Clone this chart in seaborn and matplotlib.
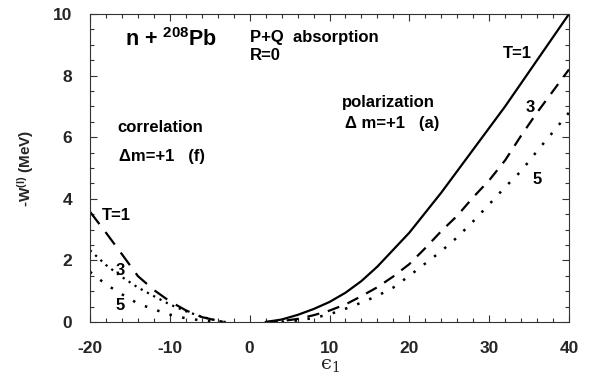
import matplotlib
matplotlib.use("Agg")
import matplotlib.pyplot as plt
import seaborn as sns
from matplotlib.ticker import MultipleLocator

# ---- data ----
corr_x = [-20, -18, -16, -14, -12, -10, -8, -6, -4, -3]
corr_T1 = [3.58, 2.9, 2.2, 1.49, 1.04, 0.67, 0.38, 0.16, 0.04, 0.0]
corr_T3 = [2.33, 1.85, 1.46, 1.12, 0.84, 0.57, 0.35, 0.17, 0.04, 0.0]
corr_T5 = [1.63, 1.22, 0.90, 0.60, 0.41, 0.24, 0.12, 0.05, 0.01, 0.0]

pol_x = [2, 4, 6, 8, 10, 12, 14, 16, 18, 20, 22, 24, 26, 28, 30, 32, 34, 36, 38, 40]
pol_T1 = [0.0, 0.08, 0.23, 0.42, 0.65, 0.95, 1.33, 1.8, 2.35, 2.9, 3.55, 4.2, 4.9, 5.6, 6.3, 7.0, 7.75, 8.5, 9.25, 10.0]
pol_T3 = [0.0, 0.03, 0.1, 0.22, 0.37, 0.57, 0.84, 1.13, 1.48, 1.88, 2.4, 2.95, 3.45, 4.05, 4.6, 5.25, 6.05, 6.8, 7.5, 8.2]
pol5_x = [4, 6, 8, 10, 12, 14, 16, 18, 20, 22, 24, 26, 28, 30, 32, 34, 36, 38, 40]
pol_T5 = [0.0, 0.05, 0.13, 0.25, 0.43, 0.63, 0.85, 1.12, 1.5, 1.9, 2.3, 2.75, 3.27, 3.82, 4.38, 4.9, 5.55, 6.17, 6.8]

x_ticks = [-20, -10, 0, 10, 20, 30, 40]
y_ticks = [0, 2, 4, 6, 8, 10]

sns.set_theme(style="ticks")
plt.rcParams['font.family'] = ['Liberation Sans', 'DejaVu Sans']
plt.rcParams['axes.unicode_minus'] = False
plt.rcParams['mathtext.fontset'] = 'custom'
plt.rcParams['mathtext.rm'] = 'DejaVu Serif'
plt.rcParams['mathtext.bf'] = 'Liberation Sans:bold'
plt.rcParams['mathtext.it'] = 'DejaVu Serif:italic'

fig = plt.figure(figsize=(5.95, 3.79), dpi=100)
ax = fig.add_axes([90/595, 1-322/379, (569-90)/595, (322-14)/379])

k = dict(ax=ax, color='black', estimator=None, legend=False,
         solid_joinstyle='round', dash_joinstyle='round')
sns.lineplot(x=corr_x, y=corr_T1, lw=1.6, linestyle=(0, (7, 4.5)), **k)
sns.lineplot(x=corr_x, y=corr_T3, lw=1.6, linestyle=(0, (1, 2.2)), **k)
sns.lineplot(x=corr_x, y=corr_T5, lw=1.8, linestyle=(0, (1, 4.2)), **k)
sns.lineplot(x=pol_x, y=pol_T1, lw=1.6, linestyle='-', **k)
sns.lineplot(x=pol_x, y=pol_T3, lw=1.6, linestyle=(0, (5.5, 4)), **k)
sns.lineplot(x=pol5_x, y=pol_T5, lw=1.8, linestyle=(0, (1, 4.2)), **k)

ax.set_xlim(-20, 40)
ax.set_ylim(0, 10)
ax.set_xticks(x_ticks)
ax.set_yticks(y_ticks)
ax.xaxis.set_minor_locator(MultipleLocator(2))
ax.yaxis.set_minor_locator(MultipleLocator(0.5))
ax.tick_params(which='both', direction='in', top=True, right=True, color='#333333', width=0.8)
ax.tick_params(which='major', length=5, labelsize=12.5)
ax.tick_params(axis='x', which='major', pad=14)
ax.tick_params(axis='y', which='major', pad=13)
ax.tick_params(which='minor', length=3)
for lab in ax.get_xticklabels() + ax.get_yticklabels():
    lab.set_fontweight('bold')
for s in ax.spines.values():
    s.set_visible(True)
    s.set_linewidth(0.8)
    s.set_color('#333333')

ax.set_xlabel('\u03f5$_{1}$', fontsize=14, labelpad=0, family=['DejaVu Serif'])
ax.set_ylabel(r'-W$^{\mathbf{(l)}}$ (MeV)', fontsize=11, fontweight='bold', labelpad=12)

tk = dict(color='black', fontweight='bold')
fs = 12
ax.text(-9.85, 9.16, r'n + $^{\mathbf{208}}$Pb', fontsize=15.5, ha='center', va='center', **tk)
ax.text(0.0, 9.25, 'P+Q  absorption', fontsize=fs, ha='left', va='center', **tk)
ax.text(0.0, 8.65, 'R=0', fontsize=fs, ha='left', va='center', **tk)
ax.text(-16.6, 6.3, 'correlation', fontsize=fs, ha='left', va='center', **tk)
ax.text(-16.4, 5.36, '\u0394m=+1   (f)', fontsize=fs, ha='left', va='center', **tk)
ax.text(11.6, 7.14, 'polarization', fontsize=fs, ha='left', va='center', **tk)
ax.text(12.0, 6.45, '\u0394 m=+1   (a)', fontsize=fs, ha='left', va='center', **tk)
ax.text(31.75, 8.73, 'T=1', fontsize=fs, ha='left', va='center', **tk)
ax.text(35.1, 6.98, '3', fontsize=fs, ha='center', va='center', **tk)
ax.text(36.0, 4.64, '5', fontsize=fs, ha='center', va='center', **tk)
ax.text(-18.5, 3.47, 'T=1', fontsize=fs, ha='left', va='center', **tk)
ax.text(-16.2, 1.66, '3', fontsize=fs, ha='center', va='center', **tk)
ax.text(-16.2, 0.52, '5', fontsize=fs, ha='center', va='center', **tk)

fig.savefig('out.png', dpi=100)
